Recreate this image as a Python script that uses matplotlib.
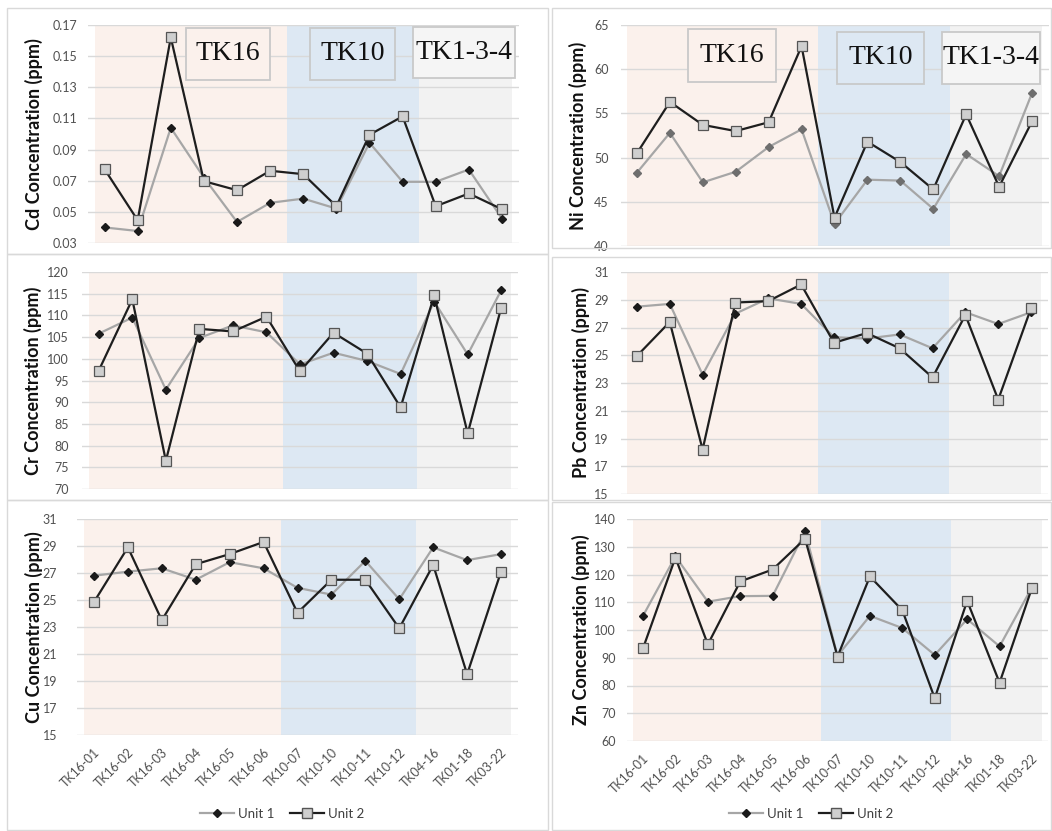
import matplotlib
matplotlib.use("Agg")
import matplotlib.pyplot as plt
from matplotlib.patches import Rectangle
from matplotlib.lines import Line2D

samples = ["TK16-01", "TK16-02", "TK16-03", "TK16-04", "TK16-05", "TK16-06",
           "TK10-07", "TK10-10", "TK10-11", "TK10-12", "TK04-16", "TK01-18", "TK03-22"]
groups = ["TK16", "TK10", "TK1-3-4"]
group_sizes = [6, 4, 3]

cd_unit1 = [0.040, 0.0377, 0.104, 0.072, 0.0435, 0.0558, 0.0585, 0.0521, 0.0944, 0.0693, 0.0693, 0.0772, 0.0457]
cd_unit2 = [0.0774, 0.0446, 0.162, 0.0697, 0.0639, 0.0764, 0.0742, 0.0536, 0.0995, 0.1113, 0.0536, 0.0618, 0.0517]
ni_unit1 = [48.3, 52.8, 47.2, 48.4, 51.2, 53.2, 42.5, 47.5, 47.4, 44.2, 50.4, 47.9, 57.3]
ni_unit2 = [50.5, 56.3, 53.7, 53.0, 54.0, 62.6, 43.2, 51.8, 49.5, 46.4, 54.9, 46.7, 54.1]
cr_unit1 = [105.8, 109.5, 92.9, 104.8, 107.7, 106.1, 98.7, 101.4, 99.5, 96.5, 113.2, 101.0, 115.8]
cr_unit2 = [97.3, 113.7, 76.5, 106.9, 106.3, 109.7, 97.1, 106.0, 101.2, 88.8, 114.6, 82.8, 111.8]
pb_unit1 = [28.5, 28.7, 23.6, 28.0, 29.1, 28.7, 26.3, 26.2, 26.5, 25.5, 28.1, 27.25, 28.1]
pb_unit2 = [24.95, 27.4, 18.2, 28.8, 28.9, 30.1, 25.9, 26.6, 25.5, 23.4, 27.9, 21.8, 28.4]
cu_unit1 = [26.8, 27.1, 27.35, 26.5, 27.8, 27.35, 25.9, 25.4, 27.9, 25.05, 28.9, 27.95, 28.4]
cu_unit2 = [24.85, 28.9, 23.5, 27.65, 28.4, 29.3, 24.05, 26.5, 26.5, 22.9, 27.6, 19.5, 27.1]
zn_unit1 = [105.1, 126.5, 110.2, 112.2, 112.3, 135.5, 90.7, 105.1, 100.7, 91.0, 103.9, 94.1, 115.4]
zn_unit2 = [93.4, 126.1, 94.8, 117.5, 121.8, 132.9, 90.4, 119.3, 107.1, 75.4, 110.5, 81.0, 115.2]

W, H = 1052, 831
plt.rcParams['font.family'] = ['Lato', 'DejaVu Sans']

fig = plt.figure(figsize=(W / 100, H / 100), dpi=100)
fig.patch.set_facecolor('white')

def px_rect(l, t, r, b):
    return [l / W, 1 - b / H, (r - l) / W, (b - t) / H]

shade_colors = ['#fbf1ec', '#dde8f3', '#f2f2f2']
box_faces = ['#fbf1ec', '#dde8f3', '#f5f5f5']

# panel frames (left column / right column)
for l, t, r, b in [(7, 8, 548, 254), (7, 254, 548, 500), (7, 500, 548, 830),
                   (552, 8, 1051, 248), (552, 257, 1051, 500), (552, 502, 1051, 830)]:
    fig.add_artist(Rectangle((l / W, 1 - b / H), (r - l) / W, (b - t) / H,
                             transform=fig.transFigure, fill=False, ec='#d9d9d9', lw=1))

# name, unit 1, unit 2, y range, axes box (px), label centre x (px), tick pad (px), x labels, diamond colour, group boxes
panels = [
    ("Cd", cd_unit1, cd_unit2, (0.03, 0.17, 0.02), (88, 25, 518.5, 243), 38, 11, False, '#1a1a1a',
     [(186, 28, 270, 80), (310, 28, 395, 80), (413, 27, 515, 78)]),
    ("Ni", ni_unit1, ni_unit2, (40, 65, 5), (620.5, 25, 1048.5, 246), 582, 12, False, '#6e6e6e',
     [(688, 29, 776, 82), (837, 32, 924, 84), (942, 32, 1040, 84)]),
    ("Cr", cr_unit1, cr_unit2, (70, 120, 5), (82, 272, 518, 489), 37, 13, False, '#1a1a1a', None),
    ("Pb", pb_unit1, pb_unit2, (15, 31, 2), (620.5, 272, 1047.5, 494), 585, 12, False, '#1a1a1a', None),
    ("Cu", cu_unit1, cu_unit2, (15, 31, 2), (77, 519, 518, 735), 38, 20, True, '#1a1a1a', None),
    ("Zn", zn_unit1, zn_unit2, (60, 140, 10), (626.8, 519, 1048.2, 741), 585, 11, True, '#1a1a1a', None),
]

x = list(range(len(samples)))

for name, u1, u2, (ymin, ymax, ystep), (l, t, r, b), lab_x, pad, show_x, dcol, boxes in panels:
    ax = fig.add_axes(px_rect(l, t, r, b))
    ax.set_xlim(-0.5, len(samples) - 0.5)
    ax.set_ylim(ymin, ymax)
    n = int(round((ymax - ymin) / ystep))
    ticks = [ymin + i * ystep for i in range(n + 1)]
    ax.set_yticks(ticks)
    if ystep < 1:
        ax.set_yticklabels([f"{v:.2f}" for v in ticks])
    else:
        ax.set_yticklabels([f"{v:g}" for v in ticks])
    for s in ax.spines.values():
        s.set_visible(False)
    ax.set_facecolor('none')
    ax.tick_params(axis='y', length=0, pad=pad * 0.72, labelsize=9, labelcolor='#505050')
    ax.tick_params(axis='x', length=0)
    ax.grid(axis='y', color='#d9d9d9', lw=1, zorder=1)
    ax.set_axisbelow(True)

    # group shading
    start = -0.5
    for i, size in enumerate(group_sizes):
        lo = start + (0.2 if i == 0 else 0)
        hi = start + size - (0.2 if i == len(group_sizes) - 1 else 0)
        ax.axvspan(lo, hi, color=shade_colors[i], zorder=0, lw=0)
        start += size

    if boxes:
        for (bl, bt, br, bb), g, fc in zip(boxes, groups, box_faces):
            fx0 = (bl - l) / (r - l)
            fx1 = (br - l) / (r - l)
            fy0 = 1 - (bb - t) / (b - t)
            fy1 = 1 - (bt - t) / (b - t)
            ax.add_patch(Rectangle((fx0, fy0), fx1 - fx0, fy1 - fy0, transform=ax.transAxes,
                                   fc=fc, ec='#c9c9c9', lw=1.3, zorder=2))
            ax.text((fx0 + fx1) / 2, (fy0 + fy1) / 2, g, transform=ax.transAxes,
                    ha='center', va='center', fontsize=20, family='Liberation Serif',
                    color='#111111', zorder=3)

    ax.plot(x, u1, color='#a6a6a6', lw=1.6, marker='D', markersize=4.5,
            mfc=dcol, mec=dcol, zorder=4)
    ax.plot(x, u2, color='#1e1e1e', lw=1.6, marker='s', markersize=6.5,
            mfc='#cfcfcf', mec='#555555', mew=0.9, zorder=5)

    ax.set_ylabel(f"{name} Concentration (ppm)", fontsize=13, fontweight='bold', color='#111111')
    # label anchor is its baseline side, a few px right of the centre
    ax.yaxis.set_label_coords((lab_x + 5 - l) / (r - l), 0.5)

    ax.set_xticks(x)
    if show_x:
        ax.set_xticklabels(samples, rotation=45, ha='right', rotation_mode='anchor',
                           fontsize=9, color='#505050')
        ax.tick_params(axis='x', pad=8)
    else:
        ax.set_xticklabels([])

handles = [Line2D([], [], color='#a6a6a6', lw=1.6, marker='D', markersize=4.5, mfc='#1a1a1a', mec='#1a1a1a'),
           Line2D([], [], color='#1e1e1e', lw=1.6, marker='s', markersize=6.5, mfc='#cfcfcf', mec='#555555')]
for cx in (282, 811):
    fig.legend(handles, ["Unit 1", "Unit 2"], loc='center', bbox_to_anchor=(cx / W, 1 - 814 / H),
               ncol=2, frameon=False, fontsize=9.5, handlelength=2.6, handletextpad=0.3,
               columnspacing=1.2, labelcolor='#404040')

fig.savefig("out.png", dpi=100, facecolor='white')
